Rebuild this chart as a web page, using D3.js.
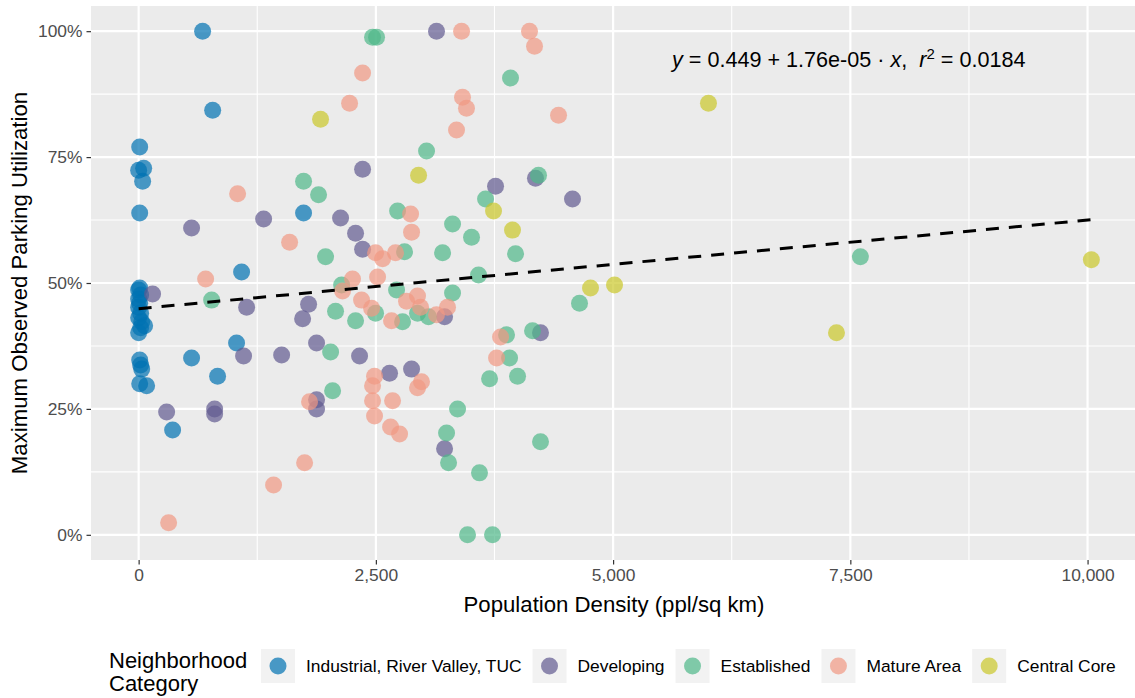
<!DOCTYPE html>
<html>
<head>
<meta charset="utf-8">
<script src="https://cdn.jsdelivr.net/npm/d3@7"></script>
<style>
body { margin: 0; background: #fff; }
text { font-family: "Liberation Sans", Arial, sans-serif; }
</style>
</head>
<body>
<div id="chart"></div>
<script>
// population density (ppl/sq km), max observed utilization (share)
var industrial = [
  [674,1.00],[780,0.843],[11,0.770],[0,0.724],[53,0.728],[42,0.702],[11,0.639],
  [11,0.490],[0,0.486],[21,0.476],[0,0.468],[11,0.460],[0,0.452],[21,0.440],[0,0.431],
  [32,0.423],[63,0.415],[21,0.411],[0,0.401],
  [11,0.347],[21,0.337],[32,0.329],[11,0.300],[84,0.296],
  [558,0.351],[832,0.315],[1032,0.381],[1085,0.522],[1738,0.639],[358,0.208]
];
var developing = [
  [3139,1.00],[2360,0.726],[3761,0.692],[4182,0.708],[4572,0.667],[558,0.609],[1317,0.627],
  [2128,0.629],[2286,0.599],[2360,0.567],[147,0.478],[1138,0.452],[1791,0.458],[1728,0.429],
  [1875,0.381],[1106,0.355],[1507,0.357],[2328,0.355],[2644,0.321],[2876,0.329],[3224,0.433],
  [4235,0.401],[295,0.244],[801,0.250],[801,0.240],[1875,0.268],[1875,0.250],[3224,0.171]
];
var established = [
  [2465,0.988],[2507,0.988],[3919,0.907],[3034,0.762],[1738,0.702],[1896,0.675],[3656,0.667],
  [4214,0.714],[2729,0.643],[3308,0.617],[3508,0.591],[1970,0.552],[2802,0.562],[3203,0.560],
  [3972,0.558],[3582,0.516],[2139,0.496],[2718,0.486],[3308,0.480],[2075,0.444],[2286,0.425],
  [2497,0.440],[2781,0.423],[2939,0.440],[3055,0.433],[4646,0.460],[3877,0.397],[4151,0.405],
  [3909,0.351],[3698,0.310],[3993,0.315],[2023,0.363],[2044,0.286],[3361,0.250],[3245,0.202],
  [3266,0.143],[4235,0.185],[3592,0.123],[3466,0.0],[3729,0.0],[769,0.466],[7606,0.552]
];
var mature = [
  [3403,1.00],[4119,1.00],[4172,0.970],[2360,0.917],[2223,0.857],[3413,0.869],[3455,0.847],
  [3350,0.804],[4425,0.833],[1043,0.677],[2866,0.637],[2876,0.601],[1591,0.581],[2497,0.560],
  [2571,0.548],[2707,0.560],[2254,0.508],[2518,0.512],[2149,0.484],[706,0.508],[2349,0.466],
  [2455,0.450],[2665,0.425],[2823,0.464],[2939,0.474],[2971,0.452],[3139,0.437],[3255,0.452],
  [2486,0.315],[2465,0.296],[2465,0.266],[2676,0.266],[2486,0.236],[2655,0.214],[2750,0.200],
  [2981,0.304],[2939,0.292],[1801,0.264],[1749,0.143],[1422,0.099],[316,0.024],[3814,0.393],
  [3772,0.351]
];
var central = [
  [1917,0.825],[2950,0.714],[3740,0.643],[3940,0.605],[4762,0.490],[5015,0.496],[6005,0.857],
  [7354,0.401],[10040,0.546]
];

var categories = ["Industrial, River Valley, TUC", "Developing", "Established", "Mature Area", "Central Core"];
var series = [industrial, developing, established, mature, central];
var palette = ["#0072B2", "#615A90", "#4FB889", "#F19883", "#CAC72A"];

var xTicks = [0, 2500, 5000, 7500, 10000];
var yTicks = [0, 0.25, 0.5, 0.75, 1];
var fitIntercept = 0.449, fitSlope = 1.76e-05, fitR2 = 0.0184;

var width = 1135, height = 698;
var panel = {left: 91, right: 1139, top: 6, bottom: 560};

var svg = d3.select("#chart").append("svg")
  .attr("width", width).attr("height", height);

var points = [];
series.forEach(function (s, i) {
  s.forEach(function (p) { points.push({x: p[0], y: p[1], cat: i}); });
});

var xExt = d3.extent(points, function (d) { return d.x; });
var xPad = (xExt[1] - xExt[0]) * 0.05;
var x = d3.scaleLinear().domain([xExt[0] - xPad, xExt[1] + xPad]).range([panel.left, panel.right]);
var y = d3.scaleLinear().domain([-0.05, 1.05]).range([panel.bottom, panel.top]);

// panel background
svg.append("rect")
  .attr("x", panel.left).attr("y", panel.top)
  .attr("width", panel.right - panel.left).attr("height", panel.bottom - panel.top)
  .attr("fill", "#EBEBEB");

var xMinor = [1250, 3750, 6250, 8750];
var yMinor = [0.125, 0.375, 0.625, 0.875];
var grid = svg.append("g");
grid.selectAll(".xm").data(xMinor).enter().append("line")
  .attr("x1", x).attr("x2", x).attr("y1", panel.top).attr("y2", panel.bottom)
  .attr("stroke", "#fff").attr("stroke-width", 1.1);
grid.selectAll(".ym").data(yMinor).enter().append("line")
  .attr("y1", y).attr("y2", y).attr("x1", panel.left).attr("x2", panel.right)
  .attr("stroke", "#fff").attr("stroke-width", 1.1);
grid.selectAll(".xM").data(xTicks).enter().append("line")
  .attr("x1", x).attr("x2", x).attr("y1", panel.top).attr("y2", panel.bottom)
  .attr("stroke", "#fff").attr("stroke-width", 2.2);
grid.selectAll(".yM").data(yTicks).enter().append("line")
  .attr("y1", y).attr("y2", y).attr("x1", panel.left).attr("x2", panel.right)
  .attr("stroke", "#fff").attr("stroke-width", 2.2);

// axes
var xAxis = d3.axisBottom(x).tickValues(xTicks).tickSize(4.5).tickPadding(4)
  .tickFormat(d3.format(",d"));
var yAxis = d3.axisLeft(y).tickValues(yTicks).tickSize(4.5).tickPadding(4)
  .tickFormat(d3.format(".0%"));

var gx = svg.append("g").attr("transform", "translate(0," + panel.bottom + ")").call(xAxis);
var gy = svg.append("g").attr("transform", "translate(" + panel.left + ",0)").call(yAxis);
[gx, gy].forEach(function (g) {
  g.select(".domain").remove();
  g.selectAll(".tick line").attr("stroke", "#333").attr("stroke-width", 1.2);
  g.selectAll(".tick text").attr("fill", "#4D4D4D").style("font-size", "17.4px")
    .style("font-family", "'Liberation Sans', Arial, sans-serif");
});

// points
svg.append("g").selectAll("circle").data(points).enter().append("circle")
  .attr("cx", function (d) { return x(d.x); })
  .attr("cy", function (d) { return y(d.y); })
  .attr("r", 8.5)
  .attr("fill", function (d) { return palette[d.cat]; })
  .attr("fill-opacity", 0.7);

// fitted line
var fitLine = d3.line().x(function (d) { return x(d); })
  .y(function (d) { return y(fitIntercept + fitSlope * d); });
svg.append("path").datum(xExt)
  .attr("d", fitLine)
  .attr("fill", "none").attr("stroke", "#000")
  .attr("stroke-width", 3).attr("stroke-dasharray", "13,10");

// equation
var eq = svg.append("text").attr("x", 672).attr("y", 67)
  .style("font-size", "21.6px").style("white-space", "pre").attr("fill", "#000");
eq.append("tspan").style("font-style", "italic").text("y");
eq.append("tspan").text(" = " + fitIntercept + " + " + "1.76e-05" + " \u00B7 ");
eq.append("tspan").style("font-style", "italic").text("x");
eq.append("tspan").text(",  ");
eq.append("tspan").style("font-style", "italic").text("r");
eq.append("tspan").attr("dy", -8).style("font-size", "15px").text("2");
eq.append("tspan").attr("dy", 8).text(" = " + fitR2);

// axis titles
svg.append("text")
  .attr("x", (panel.left + panel.right) / 2 - 1).attr("y", 612)
  .attr("text-anchor", "middle").style("font-size", "22.2px")
  .text("Population Density (ppl/sq km)");
svg.append("text")
  .attr("transform", "translate(27," + ((panel.top + panel.bottom) / 2) + ") rotate(-90)")
  .attr("text-anchor", "middle").style("font-size", "22.2px")
  .text("Maximum Observed Parking Utilization");

// legend
var legend = svg.append("g");
legend.append("text").attr("x", 109).attr("y", 668).style("font-size", "22px").text("Neighborhood");
legend.append("text").attr("x", 109).attr("y", 691).style("font-size", "22px").text("Category");

var kx = 261, keySize = 34, ky = 666;
categories.forEach(function (c, i) {
  legend.append("rect").attr("x", kx).attr("y", ky - keySize / 2)
    .attr("width", keySize).attr("height", keySize).attr("fill", "#F2F2F2");
  legend.append("circle").attr("cx", kx + keySize / 2).attr("cy", ky).attr("r", 8.5)
    .attr("fill", palette[i]).attr("fill-opacity", 0.7);
  var t = legend.append("text").attr("x", kx + keySize + 11).attr("y", ky + 6)
    .style("font-size", "17.4px").text(c);
  kx = kx + keySize + 11 + t.node().getComputedTextLength() + 11;
});
</script>
</body>
</html>
